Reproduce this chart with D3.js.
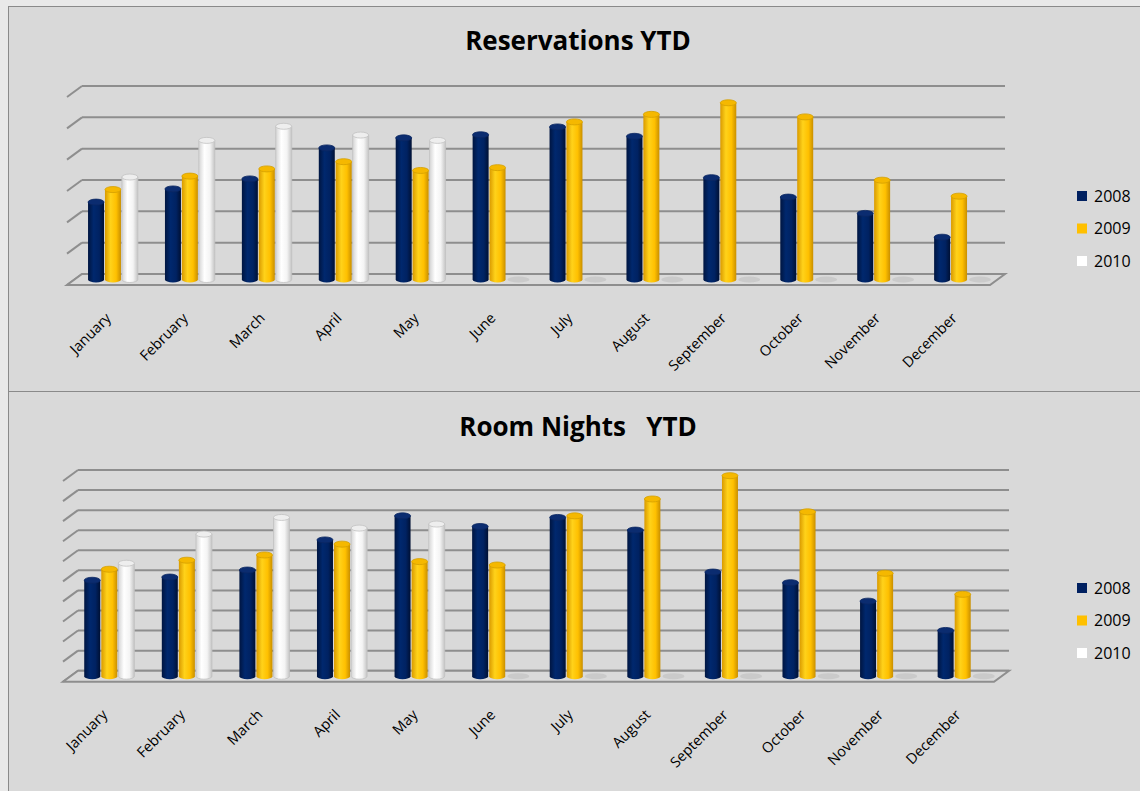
<!DOCTYPE html>
<html>
  <head>
    <meta http-equiv="Content-Type" content="text/html;charset=utf-8">
    <title>Reservations and Room Nights YTD</title>
    <script type="text/javascript" src="https://d3js.org/d3.v7.min.js"></script>
    <style>
	    html, body {
		    margin: 0;
		    padding: 0;
		    background: #e9e9e9;
	    }
	    text {
		    font-family: "Open Sans", Arial, sans-serif;
		    fill: #000;
	    }
	    .grid line {
		    stroke: #8e8e8e;
		    stroke-width: 2px;
	    }
	    .title {
		    font-size: 26px;
		    font-weight: bold;
		    white-space: pre;
	    }
	    .month {
		    font-size: 14.5px;
	    }
	    .legend text {
		    font-size: 16px;
	    }
    </style>
  </head>
  <body>
	<script type="text/javascript">

var months = ["January","February","March","April","May","June","July","August","September","October","November","December"];
var years = ["2008","2009","2010"];
var colors = ["#002060","#ffc000","#ffffff"];

// Reservations YTD (no axis labels in the original, read in gridline units x100)
var resv2008 = [247,289,321,420,452,462,487,457,325,263,211,135];
var resv2009 = [287,330,353,376,348,357,503,527,564,519,317,266];
var resv2010 = [327,444,489,461,444,0,0,0,0,0,0,0];

// Room Nights YTD
var rooms2008 = [478,494,529,679,799,746,791,728,519,466,374,228];
var rooms2009 = [533,578,604,658,571,554,799,883,999,819,513,408];
var rooms2010 = [563,708,791,738,758,0,0,0,0,0,0,0];

var W = 1140, H = 791;

var svg = d3.select("body").append("svg").attr("width",W).attr("height",H);
var defs = svg.append("defs");

// side shading for the cylinders
var grads = [
	["g2008", ["#001540","#00286e","#002262","#001033"]],
	["g2009", ["#d99a00","#ffd21a","#ffc000","#c98f00"]],
	["g2010", ["#d4d4d4","#ffffff","#f4f4f4","#c4c4c4"]]
];
grads.forEach(function(g){
	var lg = defs.append("linearGradient").attr("id",g[0]).attr("x1","0%").attr("x2","100%");
	[0,35,70,100].forEach(function(o,i){
		lg.append("stop").attr("offset",o+"%").attr("stop-color",g[1][i]);
	});
});
var capColors = ["#0b2c70","#f5b800","#eeeeee"];

// panel frames
svg.append("rect").attr("x",8.5).attr("y",6.5).attr("width",1140).attr("height",385)
	.attr("fill","#d9d9d9").attr("stroke","#8a8a8a");
svg.append("rect").attr("x",8.5).attr("y",391.5).attr("width",1140).attr("height",410)
	.attr("fill","#d9d9d9").attr("stroke","#8a8a8a");

function drawPanel(cfg) {
	var g = svg.append("g");

	g.append("text").attr("class","title")
		.attr("x",578).attr("y",cfg.titleY)
		.attr("text-anchor","middle")
		.text(cfg.title);

	var y = d3.scaleLinear().domain([0,cfg.max]).range([cfg.y0, cfg.yTop]);
	var ticks = d3.range(0, cfg.max + 1, 100);

	// back wall gridlines with short left-wall stubs
	var grid = g.append("g").attr("class","grid");
	grid.selectAll("line.h").data(ticks).enter().append("line")
		.attr("x1",cfg.left).attr("x2",cfg.right)
		.attr("y1",function(d){ return y(d); }).attr("y2",function(d){ return y(d); });
	grid.selectAll("line.s").data(ticks).enter().append("line")
		.attr("x1",cfg.left).attr("x2",cfg.left + cfg.dx)
		.attr("y1",function(d){ return y(d); }).attr("y2",function(d){ return y(d) + cfg.dy; });

	// floor
	g.append("path")
		.attr("d","M"+cfg.left+","+cfg.y0+"L"+cfg.right+","+cfg.y0+"L"+(cfg.right+cfg.dx)+","+(cfg.y0+cfg.dy)+
			"L"+(cfg.left+cfg.dx)+","+(cfg.y0+cfg.dy)+"Z")
		.attr("fill","#dadada").attr("stroke","#8e8e8e").attr("stroke-width",2);

	// bars sit at mid depth
	var bx = cfg.dx/2, by = cfg.dy/2;
	var x0 = d3.scaleBand().domain(months)
		.range([cfg.left + bx, cfg.right + bx]).paddingInner(0.34).paddingOuter(0.17);
	var x1 = d3.scaleBand().domain(years).range([0, x0.bandwidth()]);

	var rows = [];
	months.forEach(function(m,i){
		cfg.series.forEach(function(s,k){
			rows.push({month:m, year:years[k], k:k, value:s[i]});
		});
	});

	var rx = 8, ry = 3;
	var bars = g.selectAll("g.bar").data(rows).enter().append("g").attr("class","bar");
	bars.each(function(d){
		var sel = d3.select(this);
		var cx = x0(d.month) + x1(d.year) + x1.bandwidth()/2;
		var yb = y(0) + by;
		var yt = y(d.value) + by;
		if (d.value === 0) {
			sel.append("ellipse").attr("cx",cx + 4).attr("cy",yb).attr("rx",rx + 3).attr("ry",ry)
				.attr("fill","#c6c6c6").attr("opacity",0.8);
			return;
		}
		sel.append("path")
			.attr("d","M"+(cx-rx)+","+yt+"L"+(cx-rx)+","+yb+"A"+rx+","+ry+" 0 0 0 "+(cx+rx)+","+yb+
				"L"+(cx+rx)+","+yt+"Z")
			.attr("fill","url(#g"+d.year+")")
			.attr("stroke", d.k == 2 ? "#c2c2c2" : "none").attr("stroke-width",0.8);
		sel.append("ellipse").attr("cx",cx).attr("cy",yt).attr("rx",rx).attr("ry",ry)
			.attr("fill",capColors[d.k])
			.attr("stroke", d.k == 2 ? "#c2c2c2" : d3.color(capColors[d.k]).darker(0.4)).attr("stroke-width",0.8);
	});

	// month labels
	g.selectAll("text.month").data(months).enter().append("text")
		.attr("class","month")
		.attr("text-anchor","end")
		.attr("transform",function(d){
			return "translate("+(x0(d) + x0.bandwidth()/2 - 1)+","+(cfg.y0 + cfg.dy + 34)+") rotate(-45)";
		})
		.text(function(d){ return d; });

	// legend
	var lg = g.append("g").attr("class","legend");
	years.forEach(function(yr,k){
		var cy = cfg.legendY + k*32.5;
		lg.append("rect").attr("x",1077).attr("y",cy-5).attr("width",10).attr("height",10)
			.attr("fill",colors[k]);
		lg.append("text").attr("x",1094).attr("y",cy).attr("dy","0.35em").text(yr);
	});
}

drawPanel({
	title: "Reservations YTD", titleY: 50,
	series: [resv2008, resv2009, resv2010],
	max: 600, y0: 274, yTop: 86,
	left: 82, right: 1005, dx: -15, dy: 11,
	legendY: 196
});

drawPanel({
	title: "Room Nights   YTD", titleY: 436,
	series: [rooms2008, rooms2009, rooms2010],
	max: 1000, y0: 670.7, yTop: 470,
	left: 78, right: 1009, dx: -15, dy: 11,
	legendY: 588
});

	</script>
  </body>
</html>
